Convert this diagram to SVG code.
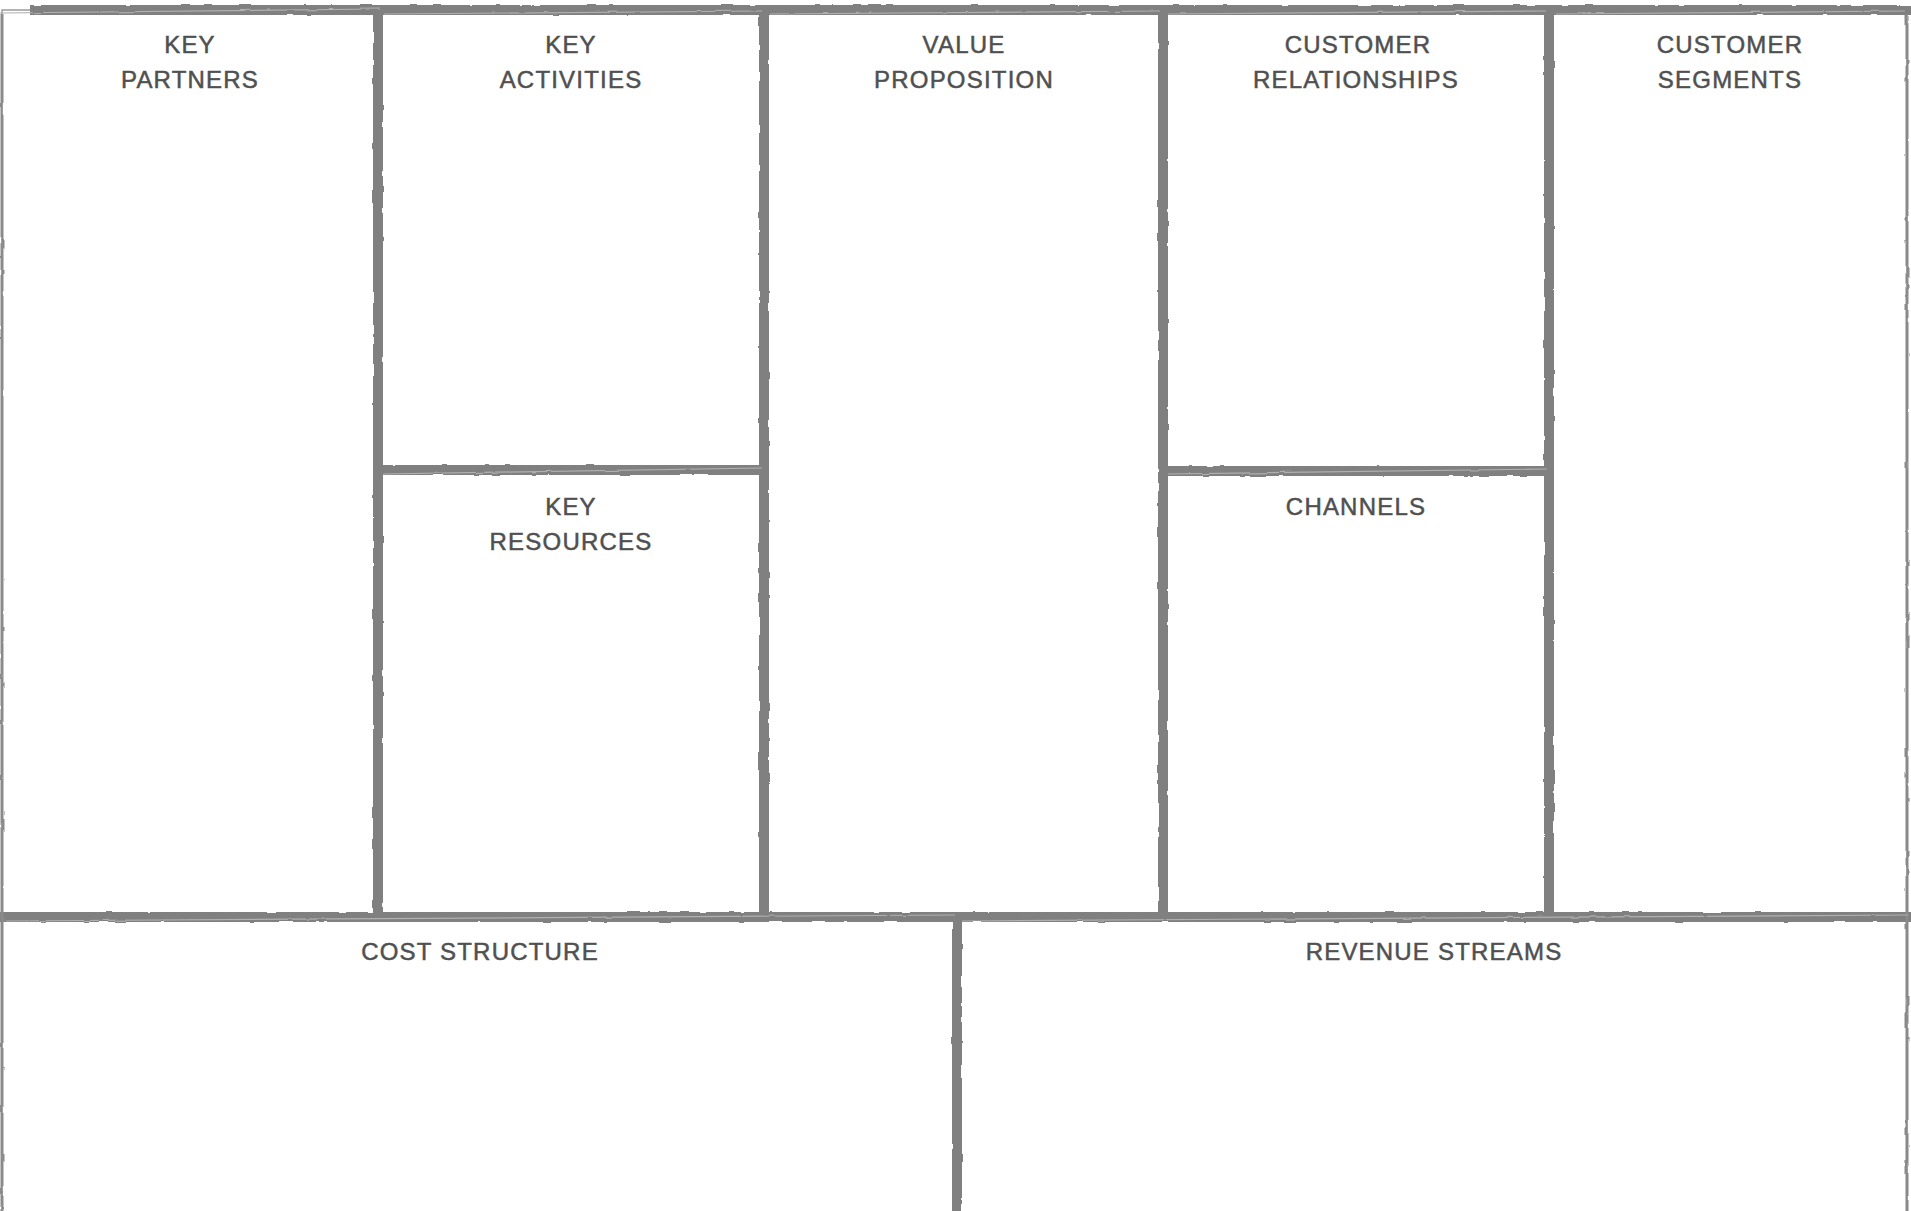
<svg xmlns="http://www.w3.org/2000/svg" width="1911" height="1211" viewBox="0 0 1911 1211">
  <defs>
    <filter id="rough" x="-2%" y="-2%" width="104%" height="104%">
      <feTurbulence type="fractalNoise" baseFrequency="0.06" numOctaves="2" seed="3" result="n"/>
      <feDisplacementMap in="SourceGraphic" in2="n" scale="2.5" xChannelSelector="R" yChannelSelector="G"/>
    </filter>
  </defs>
  <style>
    .cell { fill: #ffffff; stroke: #9a9a9a; stroke-width: 1.5; }
    .lbl { font-family: "Liberation Sans", Arial, sans-serif; font-size: 24px; fill: #505050; stroke: #505050; stroke-width: 0.5; text-anchor: middle; letter-spacing: 1.2px; }
    .thick { stroke: #808080; stroke-width: 10; stroke-linecap: butt; fill: none; }
    .thin { stroke: #8a8a8a; stroke-width: 3; fill: none; }
    .faint { stroke: #b0b0b0; stroke-width: 1.2; fill: none; }
  </style>
  <rect x="0" y="0" width="1911" height="1211" fill="#ffffff"/>

  <g id="key-partners">
    <rect class="cell" x="2" y="10" width="376" height="907"/>
    <text class="lbl" x="190" y="53">KEY</text>
    <text class="lbl" x="190" y="88">PARTNERS</text>
  </g>
  <g id="key-activities">
    <rect class="cell" x="378" y="10" width="386" height="460"/>
    <text class="lbl" x="571" y="53">KEY</text>
    <text class="lbl" x="571" y="88">ACTIVITIES</text>
  </g>
  <g id="key-resources">
    <rect class="cell" x="378" y="470" width="386" height="447"/>
    <text class="lbl" x="571" y="515">KEY</text>
    <text class="lbl" x="571" y="550">RESOURCES</text>
  </g>
  <g id="value-proposition">
    <rect class="cell" x="764" y="10" width="399" height="907"/>
    <text class="lbl" x="964" y="53">VALUE</text>
    <text class="lbl" x="964" y="88">PROPOSITION</text>
  </g>
  <g id="customer-relationships">
    <rect class="cell" x="1163" y="10" width="386" height="461"/>
    <text class="lbl" x="1358" y="53">CUSTOMER</text>
    <text class="lbl" x="1356" y="88">RELATIONSHIPS</text>
  </g>
  <g id="channels">
    <rect class="cell" x="1163" y="471" width="386" height="446"/>
    <text class="lbl" x="1356" y="515">CHANNELS</text>
  </g>
  <g id="customer-segments">
    <rect class="cell" x="1549" y="10" width="358" height="907"/>
    <text class="lbl" x="1730" y="53">CUSTOMER</text>
    <text class="lbl" x="1730" y="88">SEGMENTS</text>
  </g>
  <g id="cost-structure">
    <rect class="cell" x="2" y="917" width="955" height="300"/>
    <text class="lbl" x="480" y="960">COST STRUCTURE</text>
  </g>
  <g id="revenue-streams">
    <rect class="cell" x="957" y="917" width="950" height="300"/>
    <text class="lbl" x="1434" y="960">REVENUE STREAMS</text>
  </g>

  <g id="frame" filter="url(#rough)">
    <line class="thick" x1="30" y1="10" x2="1911" y2="10"/>
    <line class="thick" x1="378" y1="470" x2="764" y2="470"/>
    <line class="thick" x1="1163" y1="471" x2="1549" y2="471"/>
    <line class="thick" x1="0" y1="917" x2="1911" y2="917"/>
    <line class="thick" x1="378" y1="10" x2="378" y2="917"/>
    <line class="thick" x1="764" y1="10" x2="764" y2="917"/>
    <line class="thick" x1="1163" y1="10" x2="1163" y2="917"/>
    <line class="thick" x1="1549" y1="10" x2="1549" y2="917"/>
    <line class="thick" x1="957" y1="917" x2="957" y2="1211"/>
    <line class="thin" x1="2" y1="14" x2="2" y2="1211"/>
    <line class="thin" x1="1907" y1="14" x2="1907" y2="1211"/>
    <line class="faint" x1="0" y1="13" x2="380" y2="9"/>
    <line class="faint" x1="384" y1="14" x2="762" y2="11"/>
    <line class="faint" x1="770" y1="14" x2="1160" y2="11"/>
    <line class="faint" x1="1168" y1="14" x2="1546" y2="11"/>
    <line class="faint" x1="1556" y1="14" x2="1905" y2="11"/>
    <line class="faint" x1="5" y1="921" x2="955" y2="915"/>
    <line class="faint" x1="962" y1="921" x2="1908" y2="915"/>
    <line class="faint" x1="383" y1="474" x2="762" y2="468"/>
    <line class="faint" x1="1168" y1="474" x2="1547" y2="469"/>
  </g>
</svg>
